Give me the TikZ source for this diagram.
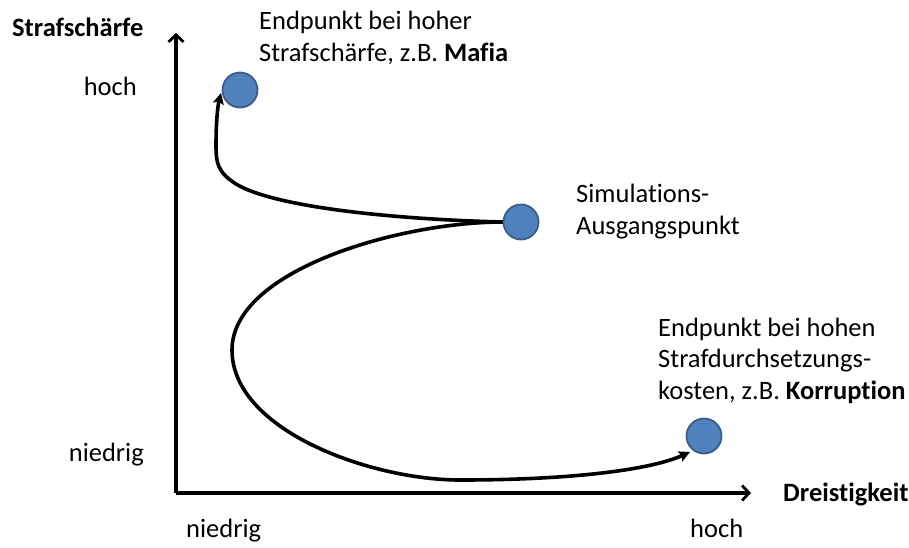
\documentclass[tikz,border=0pt]{standalone}
\usepackage{fontspec}
\setmainfont{Carlito}[Ligatures=NoCommon]
\usetikzlibrary{arrows.meta}
\definecolor{dotfill}{HTML}{4F81BD}
\definecolor{dotline}{HTML}{385D8A}
\begin{document}
\begin{tikzpicture}[x=1pt,y=-1pt,
  dot/.style={circle,fill=dotfill,draw=dotline,line width=1.8pt,minimum size=35pt,inner sep=0pt},
  lbl/.style={font=\fontsize{26.5}{31.5}\selectfont,inner sep=0pt},
  blbl/.style={font=\fontsize{26.5}{31.5}\selectfont\bfseries,inner sep=0pt},
  txt/.style={lbl,align=left,anchor=base west},
  axis/.style={line width=3.2pt,-{Straight Barb[length=7pt,width=15pt,line width=2.8pt]}},
  path/.style={line width=3.6pt,-{Stealth[length=11pt,width=11pt,inset=2pt]}}]
\useasboundingbox (0,0) rectangle (909,547);
\coordinate (O) at (176,493);
\coordinate (Ytip) at (176,33);
\coordinate (Xtip) at (751,493);
\draw[axis] (O) -- (Ytip);
\draw[axis] (O) -- (Xtip);
\node[dot] (mafia) at (240,90) {};
\node[dot] (start) at (521,222) {};
\node[dot] (korr) at (704,436) {};
\node[blbl,anchor=base west] (ylab) at (12,36) {Strafschärfe};
\node[blbl,anchor=base west] (xlab) at (783,501) {Dreistigkeit};
\node[lbl,anchor=base east] (yhoch) at (137,95) {hoch};
\node[lbl,anchor=base east] (yniedrig) at (144,461) {niedrig};
\node[lbl,anchor=base west] (xniedrig) at (186,537) {niedrig};
\node[lbl,anchor=base west] (xhoch) at (690,537) {hoch};
\node[txt] (tmafia) at (259,61) {Endpunkt bei hoher\\Strafschärfe, z.B. \textbf{Mafia}};
\node[txt] (tstart) at (576,234) {Simulations-\\Ausgangspunkt};
\node[txt] (tkorr) at (658,399) {Endpunkt bei hohen\\Strafdurchsetzungs-\\kosten, z.B. \textbf{Korruption}};
\draw[path] (start.west) .. controls (385,219) and (272,206) .. (236,184)
  .. controls (217,172) and (216,162) .. (216,145)
  .. controls (216,120) and (218,105) .. (221,93);
\draw[path] (start.west) .. controls (400,222) and (232,270) .. (232,350)
  .. controls (232,430) and (370,480) .. (460,480)
  .. controls (570,480) and (650,470) .. (690,452);
\end{tikzpicture}
\end{document}
